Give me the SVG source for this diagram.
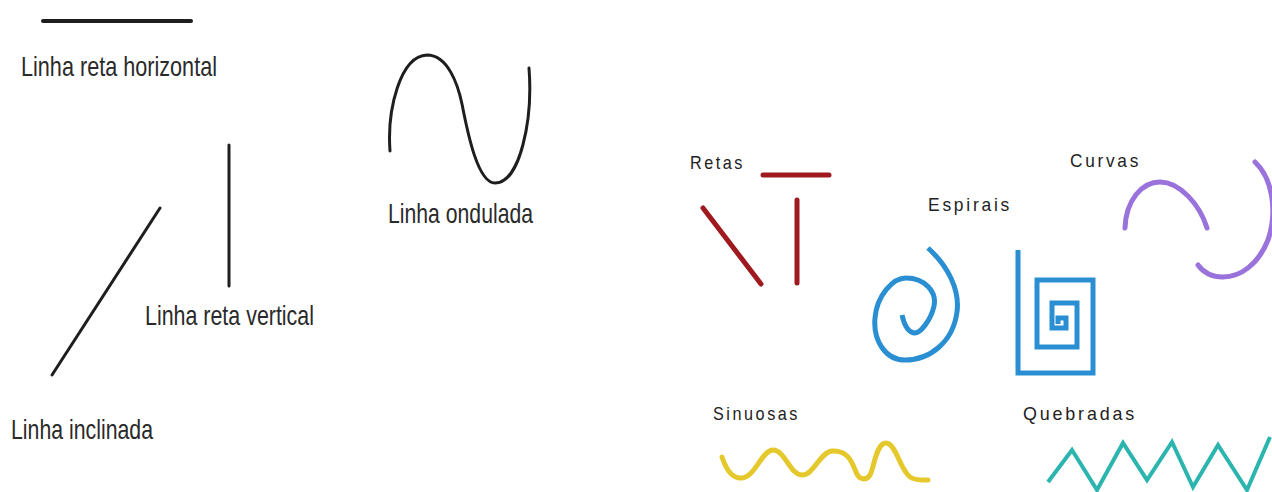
<svg xmlns="http://www.w3.org/2000/svg" width="1272" height="492" viewBox="0 0 1272 492">
<style>
.lbl{font-family:"Liberation Sans",Arial,sans-serif;font-size:28px;fill:#2a2a2a}
.cap{font-family:"Liberation Sans",Arial,sans-serif;font-size:19px;fill:#222;letter-spacing:3px}
.blk{stroke:#1e1e1e;fill:none;stroke-linecap:round}
.red{stroke:#9e1a1e;stroke-width:5;fill:none;stroke-linecap:round}
.blue{stroke:#2a8fd2;stroke-width:5;fill:none;stroke-linecap:butt;stroke-linejoin:miter}
.purple{stroke:#9a72dc;stroke-width:5;fill:none;stroke-linecap:round}
.yellow{stroke:#e5c92c;stroke-width:5;fill:none;stroke-linecap:round}
.teal{stroke:#2bb5ae;stroke-width:4;fill:none;stroke-linejoin:miter}
</style>
<rect width="1272" height="492" fill="#ffffff"/>
<g id="horizontal">
<line class="blk" x1="43" y1="21" x2="191" y2="21" stroke-width="4"/>
<text class="lbl" x="21" y="76" textLength="196" lengthAdjust="spacingAndGlyphs">Linha reta horizontal</text>
</g>
<g id="vertical">
<line class="blk" x1="229" y1="145" x2="229" y2="286" stroke-width="3"/>
<text class="lbl" x="145" y="325" textLength="169" lengthAdjust="spacingAndGlyphs">Linha reta vertical</text>
</g>
<g id="inclinada">
<line class="blk" x1="160" y1="208" x2="52" y2="375" stroke-width="3"/>
<text class="lbl" x="11" y="439" textLength="142" lengthAdjust="spacingAndGlyphs">Linha inclinada</text>
</g>
<g id="ondulada">
<path class="blk" stroke-width="3" d="M390,151 C387,110 400,56 427,55 C448,55 458,85 462,104 C468,135 478,183 495,183 C520,183 533,120 529,68"/>
<text class="lbl" x="388" y="223" textLength="145" lengthAdjust="spacingAndGlyphs">Linha ondulada</text>
</g>
<g id="retas">
<text class="cap" x="690" y="169" textLength="55" lengthAdjust="spacingAndGlyphs">Retas</text>
<line class="red" x1="763" y1="175" x2="829" y2="175"/>
<line class="red" x1="703" y1="208" x2="761" y2="284"/>
<line class="red" x1="797" y1="200" x2="797" y2="283"/>
</g>
<g id="espirais">
<text class="cap" x="928" y="211" textLength="84" lengthAdjust="spacingAndGlyphs">Espirais</text>
<path class="blue" stroke-linecap="round" d="M928,248 C948,266 960,290 957,312 C953,342 930,360 905,360 C885,360 873,340 875,318 C877,295 893,278 906,278 C925,278 937,292 934,306 C931,320 920,334 914,333 C908,332 904,324 902,315"/>
<path class="blue" d="M1018,250 L1018,373 L1093,373 L1093,280 L1037,280 L1037,347 L1077,347 L1077,303 L1052,303 L1052,328 L1066,328 L1066,318 L1058,318 L1058,324"/>
</g>
<g id="curvas">
<text class="cap" x="1070" y="167" textLength="71" lengthAdjust="spacingAndGlyphs">Curvas</text>
<path class="purple" d="M1125,228 C1126,200 1142,182 1160,182 C1180,182 1200,205 1207,228"/>
<path class="purple" d="M1255,162 C1272,178 1278,210 1268,240 C1258,265 1240,277 1223,277 C1212,277 1203,272 1198,265"/>
</g>
<g id="sinuosas">
<text class="cap" x="713" y="420" textLength="87" lengthAdjust="spacingAndGlyphs">Sinuosas</text>
<path class="yellow" d="M722,457 C727,472 733,479 742,478 C755,477 762,450 773,450 C785,450 790,475 802,475 C814,475 820,452 832,451 C848,450 852,462 856,472 C859,480 866,481 870,475 C874,468 876,443 886,443 C896,443 900,470 910,477 C916,481 922,480 928,480"/>
</g>
<g id="quebradas">
<text class="cap" x="1023" y="420" textLength="114" lengthAdjust="spacingAndGlyphs">Quebradas</text>
<polyline class="teal" points="1048,482 1072,450 1097,490 1123,443 1147,480 1172,442 1193,487 1218,445 1247,490 1270,437"/>
</g>
<g id="connectors"></g>
</svg>
